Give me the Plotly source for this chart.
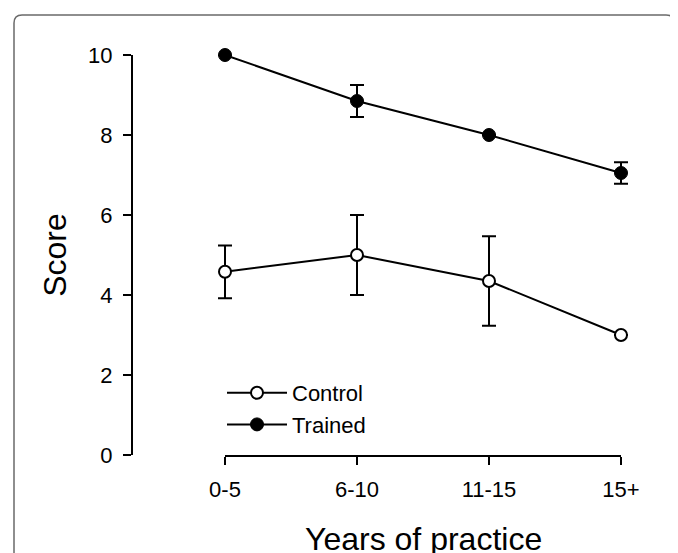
import plotly.graph_objects as go

categories = ["0-5", "6-10", "11-15", "15+"]
control_mean = [4.58, 5.0, 4.35, 3.0]
control_err = [0.66, 1.0, 1.12, 0.0]
trained_mean = [10.0, 8.85, 8.0, 7.05]
trained_err = [0.0, 0.4, 0.0, 0.27]
y_ticks = [0, 2, 4, 6, 8, 10]
x_title = "Years of practice"
y_title = "Score"

FONT = "Liberation Sans, Arial, sans-serif"
W, H = 670, 545
ML, MR, MT, MB = 124, 40, 47, 98
PW, PH = W - ML - MR, H - MT - MB
X0_PX, X1_PX = 217, 613  # x-axis line ends (figure px)
PAD = 0.08  # category units of padding so end error-bar caps are not clipped
UNIT = (X1_PX - X0_PX) / (len(categories) - 1)

x_idx = list(range(len(categories)))

fig = go.Figure()
# invisible companion trace so the category axis (x2) is drawn
fig.add_trace(go.Scatter(
    x=x_idx, y=control_mean, xaxis="x2", yaxis="y", mode="markers",
    marker=dict(opacity=0), showlegend=False, hoverinfo="skip",
))
fig.add_trace(go.Scatter(
    x=x_idx, y=control_mean, name="Control", mode="lines+markers",
    line=dict(color="black", width=2),
    marker=dict(symbol="circle", size=12, color="white", line=dict(color="black", width=2)),
    error_y=dict(type="data", array=control_err, visible=True, color="black", thickness=2, width=7),
    cliponaxis=False,
))
fig.add_trace(go.Scatter(
    x=x_idx, y=trained_mean, name="Trained", mode="lines+markers",
    line=dict(color="black", width=2),
    marker=dict(symbol="circle", size=13, color="black", line=dict(color="black", width=1)),
    error_y=dict(type="data", array=trained_err, visible=True, color="black", thickness=2, width=7),
    cliponaxis=False,
))

def px_x(p):
    return (p - ML) / PW

def px_y(p):
    return (MT + PH - p) / PH

# rounded frame around figure
l, r, t, b = px_x(6), px_x(666), px_y(7), px_y(600)
rx, ry = 8 / PW, 8 / PH
path = (f"M{l+rx},{t} L{r-rx},{t} Q{r},{t} {r},{t-ry} L{r},{b} "
        f"L{l},{b} L{l},{t-ry} Q{l},{t} {l+rx},{t} Z")
fig.add_shape(type="path", path=path, xref="paper", yref="paper",
              line=dict(color="#6a6a6a", width=1.5), fillcolor="rgba(0,0,0,0)", layer="below")

fig.add_annotation(text=x_title, xref="paper", yref="paper",
                   x=px_x((X0_PX + X1_PX) / 2), y=px_y(531),
                   xanchor="center", yanchor="middle", showarrow=False,
                   font=dict(size=32, family=FONT, color="black"))

fig.update_layout(
    width=W, height=H,
    margin=dict(l=ML, r=MR, t=MT, b=MB),
    paper_bgcolor="white", plot_bgcolor="rgba(0,0,0,0)",
    font=dict(family=FONT, color="black", size=22),
    showlegend=True,
    legend=dict(x=px_x(214), y=px_y(364), xanchor="left", yanchor="top",
                bgcolor="rgba(0,0,0,0)", font=dict(size=22, family=FONT),
                itemwidth=60, tracegroupgap=0),
    # data axis (hidden), slightly padded
    xaxis=dict(
        domain=[px_x(X0_PX - PAD * UNIT), min(1.0, px_x(X1_PX + PAD * UNIT))],
        range=[-PAD, len(categories) - 1 + PAD],
        visible=False, showgrid=False, zeroline=False, anchor="y",
    ),
    # visible category axis spanning first to last category
    xaxis2=dict(
        domain=[px_x(X0_PX), px_x(X1_PX)], range=[0, len(categories) - 1],
        anchor="y",
        tickvals=x_idx, ticktext=categories,
        showline=True, linecolor="black", linewidth=2,
        ticks="outside", ticklen=8, tickwidth=2, tickcolor="black",
        showgrid=False, zeroline=False,
        tickfont=dict(size=22, family=FONT), ticklabelstandoff=6,
        automargin=False,
    ),
    yaxis=dict(
        anchor="free", position=0, range=[0, 10],
        tickvals=y_ticks,
        showline=True, linecolor="black", linewidth=2,
        ticks="outside", ticklen=8, tickwidth=2, tickcolor="black",
        showgrid=False, zeroline=False,
        tickfont=dict(size=22, family=FONT), ticklabelstandoff=6,
        title=dict(text=y_title, font=dict(size=32, family=FONT), standoff=11),
        automargin=False,
    ),
)

fig.write_html("out.html")
